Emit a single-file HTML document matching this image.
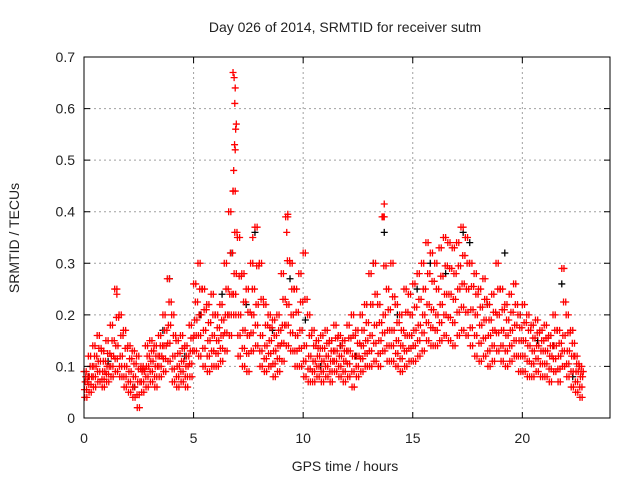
<!DOCTYPE html>
<html><head><meta charset="utf-8"><style>
body{margin:0;background:#fff;}
svg{display:block;font-family:"Liberation Sans",sans-serif;}
</style></head><body>
<svg id="chart" width="640" height="480" viewBox="0 0 640 480">
<text x="345" y="32" font-size="14" text-anchor="middle" fill="#222">Day 026 of 2014, SRMTID for receiver sutm</text>
<text x="345" y="471" font-size="14" text-anchor="middle" fill="#222">GPS time / hours</text>
<text transform="translate(19,238) rotate(-90)" font-size="14" text-anchor="middle" fill="#222">SRMTID / TECUs</text>
<g id="grid"></g><g id="marks"></g><g id="ticks"></g>
<rect x="84" y="57" width="526" height="361" fill="none" stroke="#000" stroke-width="1"/>
</svg>
<script>
const xTicks=[0,5,10,15,20];
const yTicks=[0,0.1,0.2,0.3,0.4,0.5,0.6,0.7];
const yTickLabels=["0","0.1","0.2","0.3","0.4","0.5","0.6","0.7"];
const step=0.2;
const redA=[0.09,0.12,0.14,0.16,0.13,0.15,0.18,0.25,0.2,0.17,0.14,0.13,0.12,0.1,0.14,0.15,0.14,0.16,0.2,0.27,0.2,0.15,0.16,0.14,0.18,0.26,0.3,0.25,0.22,0.24,0.2,0.22,0.3,0.4,0.44,0.35,0.28,0.25,0.3,0.37,0.3,0.22,0.2,0.19,0.2,0.28,0.39,0.3,0.25,0.28,0.32,0.2,0.17,0.15,0.16,0.17,0.15,0.18,0.16,0.15,0.18,0.2,0.17,0.2,0.22,0.28,0.3,0.22,0.39,0.25,0.3,0.22,0.2,0.25,0.24,0.26,0.28,0.3,0.34,0.32,0.3,0.33,0.35,0.34,0.33,0.34,0.37,0.35,0.3,0.28,0.25,0.27,0.22,0.24,0.3,0.25,0.22,0.24,0.26,0.2,0.22,0.2,0.18,0.19,0.17,0.18,0.16,0.2,0.17,0.29,0.2,0.17,0.12,0.1];
const redB=[0.07,0.08,0.1,0.11,0.09,0.1,0.12,0.14,0.12,0.1,0.09,0.08,0.07,0.09,0.1,0.11,0.1,0.12,0.14,0.18,0.12,0.1,0.11,0.1,0.13,0.19,0.2,0.17,0.15,0.16,0.15,0.16,0.2,0.24,0.28,0.2,0.17,0.16,0.2,0.22,0.16,0.14,0.15,0.13,0.14,0.18,0.22,0.2,0.16,0.17,0.14,0.12,0.11,0.12,0.11,0.12,0.11,0.13,0.12,0.11,0.13,0.12,0.12,0.14,0.15,0.16,0.18,0.15,0.2,0.17,0.17,0.15,0.14,0.16,0.16,0.17,0.18,0.2,0.22,0.21,0.2,0.22,0.24,0.24,0.23,0.25,0.26,0.25,0.21,0.2,0.18,0.19,0.16,0.17,0.2,0.17,0.16,0.17,0.18,0.15,0.15,0.14,0.13,0.14,0.13,0.13,0.12,0.14,0.12,0.16,0.13,0.12,0.09,0.08];
const redC=[0.04,0.05,0.06,0.07,0.06,0.07,0.08,0.09,0.08,0.06,0.05,0.04,0.02,0.05,0.06,0.07,0.06,0.08,0.09,0.11,0.07,0.06,0.07,0.06,0.08,0.13,0.12,0.1,0.09,0.1,0.1,0.11,0.13,0.16,0.2,0.12,0.1,0.09,0.13,0.14,0.1,0.09,0.1,0.08,0.09,0.11,0.14,0.13,0.1,0.1,0.08,0.07,0.07,0.08,0.07,0.08,0.07,0.09,0.08,0.07,0.08,0.06,0.08,0.09,0.1,0.1,0.11,0.1,0.13,0.11,0.11,0.1,0.09,0.1,0.11,0.11,0.12,0.13,0.15,0.14,0.14,0.15,0.16,0.15,0.14,0.16,0.17,0.16,0.14,0.12,0.11,0.12,0.1,0.11,0.13,0.11,0.1,0.11,0.12,0.09,0.09,0.08,0.08,0.09,0.08,0.08,0.07,0.09,0.07,0.1,0.08,0.06,0.05,0.04];
const spikeT=[6.8,6.85,6.9,6.88,6.95,6.92,6.87,6.9,6.83,6.8,13.7,13.65,9.3,9.25,7.7,1.5];
const spikeV=[0.67,0.66,0.64,0.61,0.57,0.56,0.53,0.52,0.48,0.44,0.415,0.39,0.395,0.36,0.35,0.24];
const blackT=[0.2,1.1,2.3,3.6,3.9,4.6,5.3,6.3,6.7,7.4,7.8,8.6,9.4,10.1,10.8,11.7,12.4,13.2,13.7,14.3,15.2,15.8,16.5,17.3,17.6,18.4,19.2,19.9,20.7,21.4,21.8,22.3];
const blackV=[0.08,0.11,0.06,0.17,0.27,0.12,0.2,0.24,0.32,0.22,0.36,0.17,0.27,0.19,0.1,0.14,0.12,0.3,0.36,0.2,0.25,0.3,0.28,0.36,0.34,0.22,0.32,0.2,0.15,0.14,0.26,0.08];
const X=t=>84+t*(526/24);
const Y=v=>418-v*(361/0.7);
const NS='http://www.w3.org/2000/svg';
function mk(tag,attrs,parent){const e=document.createElementNS(NS,tag);for(const k in attrs)e.setAttribute(k,attrs[k]);parent.appendChild(e);return e;}
const grid=document.getElementById('grid'),ticks=document.getElementById('ticks'),marks=document.getElementById('marks');
xTicks.forEach(t=>{const x=X(t);
 if(t>0){const g=mk('line',{x1:x,x2:x,y1:57,y2:418,stroke:'#a0a0a0','stroke-dasharray':'2,3'},grid);
 
 }
 const tk=mk('path',{d:`M${x},418v-6M${x},57v6`,stroke:'#000'},ticks);
 
 
 const l=mk('text',{x:x,y:443,'font-size':14,'text-anchor':'middle',fill:'#222'},ticks);l.textContent=t;
 
 
});
yTicks.forEach((v,i)=>{const y=Y(v);
 if(v>0&&v<0.7){const g=mk('line',{x1:84,x2:610,y1:y,y2:y,stroke:'#a0a0a0','stroke-dasharray':'2,3'},grid);
 
 }
 const tk=mk('path',{d:`M84,${y}h6M610,${y}h-6`,stroke:'#000'},ticks);
 
 
 const l=mk('text',{x:75,y:y+5,'font-size':14,'text-anchor':'end',fill:'#222'},ticks);l.textContent=yTickLabels[i];
 
 
});
function plus(t,v,color,name){const x=X(t),y=Y(v);
 const p=mk('path',{d:`M${x-3.5},${y}h7M${x},${y-3.5}v7`,stroke:color,'stroke-width':1.3,fill:'none'},marks);
 
 }
blackT.forEach((t,i)=>plus(t,blackV[i],'#000','black-point'));
[0,0.1].forEach(o=>{
 redA.forEach((v,i)=>plus(i*step+o,v,'#f00','red-point'));
 redB.forEach((v,i)=>plus(i*step+0.05+o,v,'#f00','red-point'));
 redC.forEach((v,i)=>plus(i*step+0.03+o,v,'#f00','red-point'));
 redA.forEach((v,i)=>plus(i*step+0.08+o,(v+redB[i])/2,'#f00','red-point'));
 redB.forEach((v,i)=>plus(i*step+0.02+o,(v+redC[i])/2,'#f00','red-point'));
});
spikeT.forEach((t,i)=>plus(t,spikeV[i],'#f00','red-spike-point'));
</script>
</body></html>
